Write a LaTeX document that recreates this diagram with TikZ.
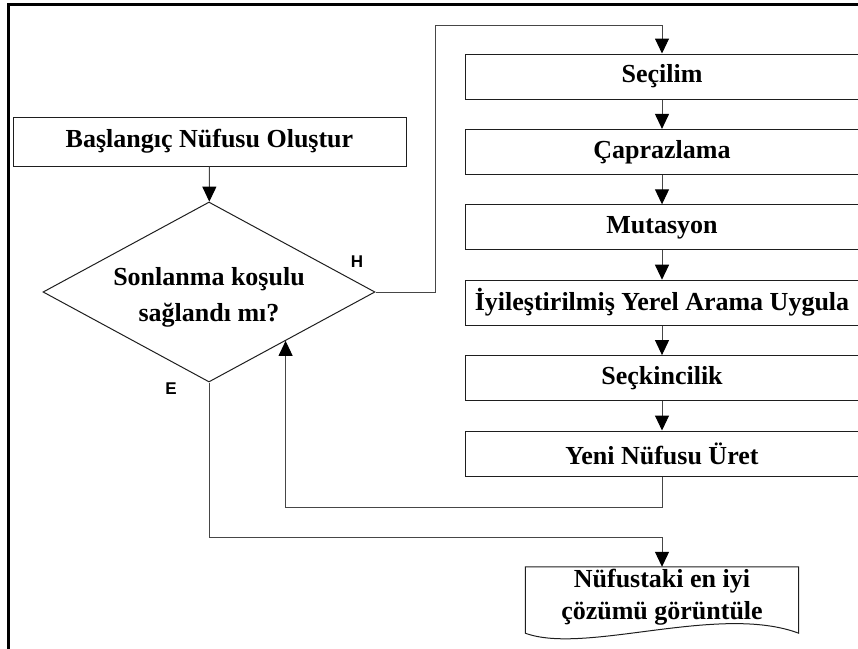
\documentclass[tikz,border=0pt]{standalone}
\usepackage{fontspec}
\setmainfont{Liberation Serif}
\newfontfamily\labelfont{Liberation Sans}
\usepackage{tikz}
\usetikzlibrary{calc,positioning,arrows.meta,shapes.geometric}
\usepackage{xcolor}
\definecolor{linegray}{RGB}{70,70,70}
\definecolor{boxline}{RGB}{30,30,30}

\begin{document}
\begin{tikzpicture}[x=1pt, y=-1pt, >={Triangle[width=14pt,length=15pt,color=black]},
    flow/.style={draw=linegray, line width=1pt},
    stepbox/.style={rectangle, draw=boxline, line width=1pt, minimum width=394pt, minimum height=45pt,
      inner sep=4pt, font=\fontsize{26}{30}\selectfont\bfseries},
    decision/.style={diamond, draw=boxline, line width=1pt, minimum width=332pt, minimum height=180pt,
      aspect=1.84, inner sep=0pt},
    docbox/.style={rectangle, minimum width=273pt, minimum height=66pt, inner sep=0pt},
    boxtext/.style={align=center, font=\fontsize{26}{34}\selectfont\bfseries},
    answer/.style={font=\labelfont\fontsize{17}{20}\selectfont\bfseries}]
  \useasboundingbox (0,0) rectangle (858,648);
  % Frame
  \draw[line width=3pt] (8.5,650) -- (8.5,4) -- (860,4);
  % Start and decision
  \node[stepbox, minimum width=393pt, minimum height=49pt] (start) at (209.5,141.5) {Başlangıç Nüfusu Oluştur};
  \node[decision] (cond) at (209,292) {};
  \node[boxtext, font=\fontsize{26}{36}\selectfont\bfseries] (condtxt) at (209,297) {Sonlanma koşulu\\sağlandı mı?};
  \draw[flow, ->] (start) -- (cond);
  % Loop steps
  \foreach \nm/\txt [count=\k from 0] in {sel/Seçilim, cross/Çaprazlama, mut/Mutasyon,
      ils/İyileştirilmiş Yerel Arama Uygula, elit/Seçkincilik, newpop/Yeni Nüfusu Üret}{
    \node[stepbox] (\nm) at (662,76.5+75.4*\k) {\txt};
  }
  \foreach \a/\b in {sel/cross, cross/mut, mut/ils, ils/elit, elit/newpop}{
    \draw[flow, ->] (\a) -- (\b);
  }
  % H branch
  \coordinate (loopin) at (435,25);
  \draw[flow, ->] (cond.east) -| (loopin) -| (sel.north);
  \node[answer] (hlabel) at (357,262) {H};
  % Feedback
  \coordinate (fb) at ($(cond.south)!0.46!(cond.east)$);
  \draw[flow, ->] (newpop.south) -- ++(0,31) -| (fb);
  % E branch
  \node[docbox] (show) at (662,600) {};
  \draw[draw=boxline, line width=1pt] (show.north west) -- (show.north east) -- (show.south east)
    .. controls ($(show.south east)+(-80,-30)$) and ($(show.south west)+(60,22)$) .. (show.south west) -- cycle;
  \node[boxtext, font=\fontsize{26}{32}\selectfont\bfseries] (showtxt) at (662,597) {Nüfustaki en iyi\\çözümü görüntüle};
  \draw[flow, ->] (cond.south) -- ++(0,155) -| (show.north);
  \node[answer] (elabel) at (171,389) {E};
\end{tikzpicture}
\end{document}
